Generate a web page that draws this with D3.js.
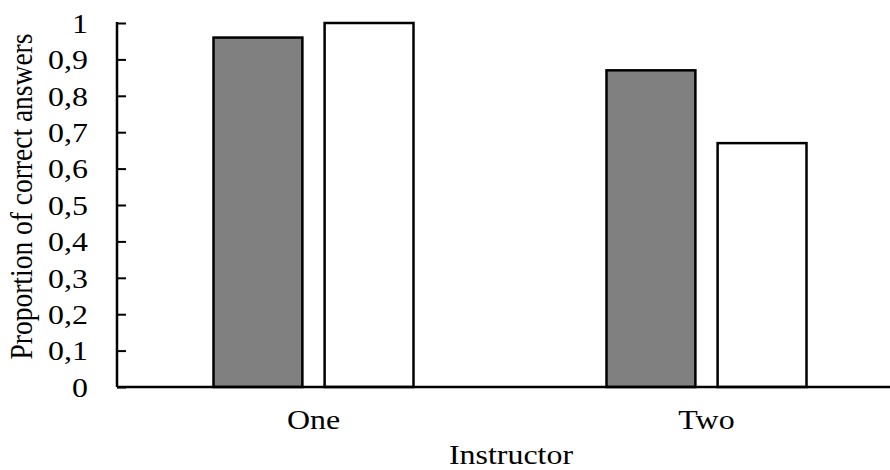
<!DOCTYPE html>
<html>
<head>
<meta charset="utf-8">
<script src="https://cdn.jsdelivr.net/npm/d3@7"></script>
<style>
body { margin: 0; background: #fff; }
text { font-family: "Liberation Serif", "Times New Roman", serif; fill: #000; }
</style>
</head>
<body>
<div id="chart"></div>
<script>
var width = 890;
var height = 470;

// data
var instructors = ["One", "Two"];
var groups = ["a", "b"];
var groupColors = ["#808080", "#ffffff"];
var valuesA = [0.96, 0.87];
var valuesB = [1.0, 0.67];
var yTicks = [0, 0.1, 0.2, 0.3, 0.4, 0.5, 0.6, 0.7, 0.8, 0.9, 1];

// plot box (the picture is a bit wider than tall, so text is stretched)
var pLeft = 117, pRight = 903, pTop = 23, pBottom = 387;
var stretch = 1.14;

var rows = instructors.map(function(d, i) {
	return {name: d, vals: [valuesA[i], valuesB[i]]};
});

var x = d3.scaleBand()
	.domain(instructors)
	.range([pLeft, pRight]);

var xInner = d3.scaleBand()
	.domain(groups)
	.range([0, 200])
	.paddingInner(0.2);

var y = d3.scaleLinear()
	.domain([0, 1])
	.range([pBottom, pTop]);

var svg = d3.select("#chart")
	.append("svg")
	.attr("width", width)
	.attr("height", height);

// bars ------------------------------------------
var grp = svg.selectAll("g.grp")
	.data(rows)
	.enter()
	.append("g")
		.attr("class", "grp")
		.attr("transform", function(d) {
			return "translate(" + (x(d.name) + x.bandwidth() / 2 - 100) + ",0)";
		});

grp.selectAll("rect")
	.data(function(d) { return d.vals; })
	.enter()
	.append("rect")
		.attr("x", function(d, i) { return xInner(groups[i]); })
		.attr("y", function(d) { return y(d); })
		.attr("width", xInner.bandwidth())
		.attr("height", function(d) { return y(0) - y(d); })
		.attr("fill", function(d, i) { return groupColors[i]; })
		.attr("stroke", "#000")
		.attr("stroke-width", 2.5);

// axes -------------------------------------------
var yAxis = svg.append("g")
	.attr("transform", "translate(" + pLeft + ",0)")
	.call(d3.axisRight(y)
		.tickValues(yTicks)
		.tickSize(9)
		.tickFormat(""));

yAxis.select(".domain").remove();
yAxis.selectAll("line").attr("stroke", "#000").attr("stroke-width", 2);

svg.append("line")
	.attr("x1", pLeft).attr("x2", pLeft)
	.attr("y1", y(1) - 1).attr("y2", y(0))
	.attr("stroke", "#000").attr("stroke-width", 2.5);

svg.append("line")
	.attr("x1", pLeft).attr("x2", width)
	.attr("y1", y(0)).attr("y2", y(0))
	.attr("stroke", "#000").attr("stroke-width", 2.5);

svg.selectAll("text.ytick")
	.data(yTicks)
	.enter()
	.append("text")
		.attr("class", "ytick")
		.attr("transform", function(d) { return "translate(88," + y(d) + ") scale(" + stretch + ",1)"; })
		.attr("dy", "0.35em")
		.attr("text-anchor", "end")
		.style("font-size", "28px")
		.text(function(d) { return String(d).replace(".", ","); });

svg.selectAll("text.xtick")
	.data(instructors)
	.enter()
	.append("text")
		.attr("class", "xtick")
		.attr("transform", function(d) { return "translate(" + (x(d) + x.bandwidth() / 2) + ",429) scale(" + stretch + ",1)"; })
		.attr("text-anchor", "middle")
		.style("font-size", "28px")
		.text(function(d) { return d; });

svg.append("text")
	.attr("transform", "translate(511,464) scale(" + stretch + ",1)")
	.attr("text-anchor", "middle")
	.style("font-size", "28px")
	.text("Instructor");

svg.append("text")
	.attr("transform", "translate(32," + (35 + 358) / 2 + ") rotate(-90) scale(1," + stretch + ")")
	.attr("text-anchor", "middle")
	.style("font-size", "27.5px")
	.text("Proportion of correct answers");
</script>
</body>
</html>
